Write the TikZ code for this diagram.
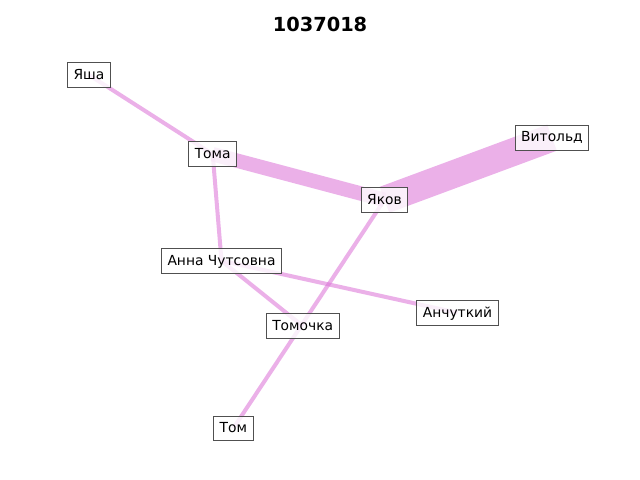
\documentclass[tikz,border=0pt]{standalone}
\usepackage{fontspec}
\setmainfont{DejaVu Sans}
\definecolor{edgecol}{RGB}{218,112,214}
\definecolor{boxedge}{RGB}{80,80,80}
\begin{document}
\begin{tikzpicture}[x=0.01in,y=-0.01in,
  lbl/.style={draw=boxedge,line width=0.6pt,fill=white,fill opacity=0.8,text opacity=1,
    inner xsep=4.3pt,inner ysep=3.4pt,text height=8.6pt,text depth=2.4pt,font=\fontsize{10pt}{12pt}\selectfont},
  edge/.style={draw=edgecol,draw opacity=0.55,line cap=butt}]
\useasboundingbox (0,0) rectangle (640,480);
\coordinate (yasha) at (89,75);
\coordinate (toma) at (212.7,154.2);
\coordinate (yakov) at (384.5,199.8);
\coordinate (vitold) at (552,137.7);
\coordinate (anna) at (221.5,260.8);
\coordinate (tomochka) at (302.7,326);
\coordinate (tom) at (233.3,428.3);
\coordinate (anch) at (457.5,312.8);
\draw[edge,line width=2.9pt] (yasha) -- (toma);
\draw[edge,line width=10.4pt] (toma) -- (yakov);
\draw[edge,line width=20pt] (yakov) -- (vitold);
\draw[edge,line width=2.9pt] (toma) -- (anna);
\draw[edge,line width=2.9pt] (anna) -- (tomochka);
\draw[edge,line width=2.9pt] (anna) -- (anch);
\draw[edge,line width=2.9pt] (yakov) -- (tom);
\node[lbl] (nyasha) at (yasha) {Яша};
\node[lbl] (ntoma) at (toma) {Тома};
\node[lbl] (nyakov) at (yakov) {Яков};
\node[lbl] (nvitold) at (vitold) {Витольд};
\node[lbl] (nanna) at (anna) {Анна Чутсовна};
\node[lbl] (ntomochka) at (tomochka) {Томочка};
\node[lbl] (ntom) at (tom) {Том};
\node[lbl] (nanch) at (anch) {Анчуткий};
\node[font=\fontsize{14pt}{16pt}\selectfont\bfseries] (title) at (320,24) {1037018};
\end{tikzpicture}
\end{document}
